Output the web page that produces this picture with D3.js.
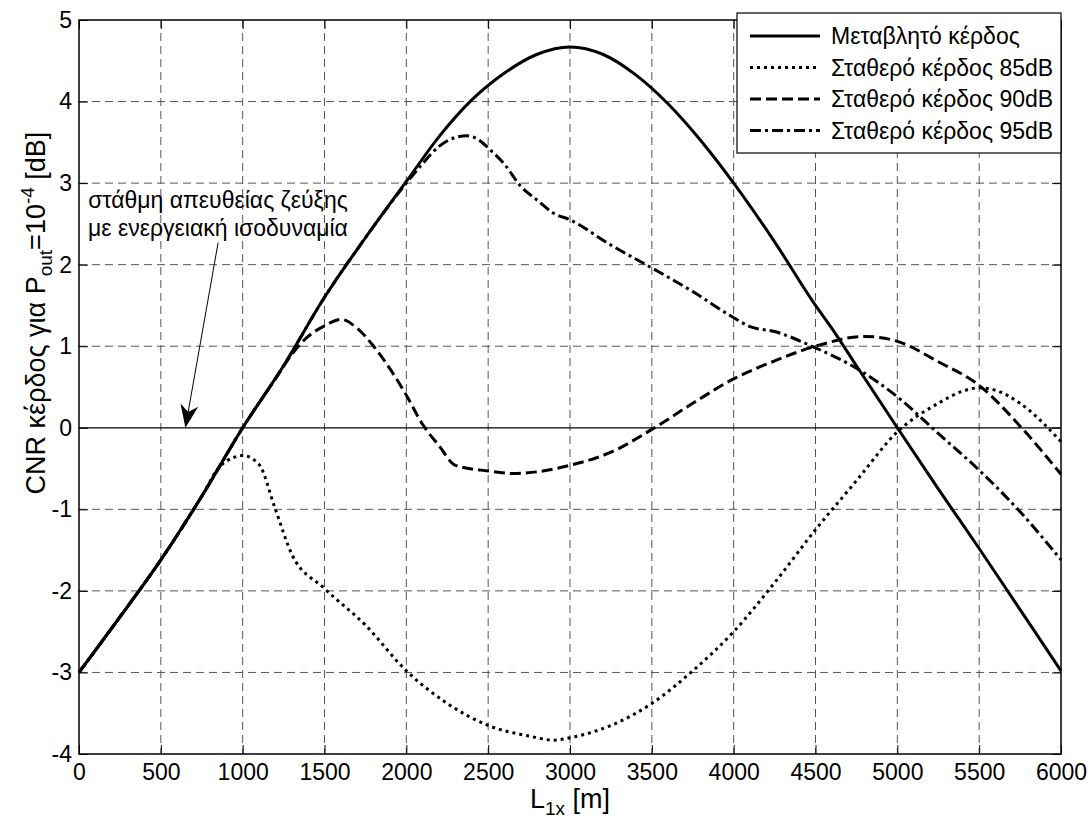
<!DOCTYPE html>
<html>
<head>
<meta charset="utf-8">
<script src="https://cdn.jsdelivr.net/npm/d3@7"></script>
<style>
  body { margin: 0; background: #fff; }
  svg text { font-family: "Liberation Sans", Arial, sans-serif; fill: #000; }
</style>
</head>
<body>
<div id="chart"></div>
<script>
// x positions [m] and CNR gain [dB] for each curve
var mainX = [0, 250, 500, 750, 1000, 1250, 1500, 1750, 2000, 2200, 2400, 2600, 2800, 3000, 3200, 3400, 3600, 3800, 4000, 4250, 4500, 4600, 4750, 5000, 5250, 5500, 5750, 6000];
var mainY = [-3.0, -2.32, -1.62, -0.84, 0, 0.76, 1.6, 2.33, 3.02, 3.57, 4.02, 4.35, 4.58, 4.67, 4.58, 4.33, 3.97, 3.52, 3.0, 2.28, 1.5, 1.22, 0.76, 0, -0.75, -1.48, -2.23, -2.98];

var g85X = [0, 250, 500, 750, 850, 950, 1000, 1100, 1200, 1300, 1500, 1750, 2000, 2250, 2500, 2750, 2900, 3000, 3250, 3500, 3750, 4000, 4250, 4500, 4750, 5000, 5250, 5400, 5500, 5600, 5750, 6000];
var g85Y = [-3.0, -2.32, -1.62, -0.84, -0.5, -0.36, -0.34, -0.45, -1.0, -1.55, -1.97, -2.42, -2.98, -3.38, -3.65, -3.78, -3.83, -3.8, -3.65, -3.38, -2.98, -2.5, -1.9, -1.25, -0.65, -0.05, 0.3, 0.45, 0.49, 0.46, 0.3, -0.17];

var g90X = [0, 250, 500, 750, 1000, 1200, 1300, 1400, 1500, 1600, 1700, 1800, 2000, 2100, 2200, 2300, 2500, 2650, 2800, 3000, 3250, 3500, 3750, 4000, 4250, 4500, 4800, 5000, 5250, 5500, 5750, 6000];
var g90Y = [-3.0, -2.32, -1.62, -0.84, 0, 0.6, 0.9, 1.12, 1.25, 1.33, 1.22, 1.0, 0.4, 0.04, -0.22, -0.46, -0.53, -0.56, -0.54, -0.46, -0.3, -0.02, 0.3, 0.6, 0.82, 1.0, 1.12, 1.06, 0.81, 0.52, 0.02, -0.57];

var g95X = [0, 250, 500, 750, 1000, 1250, 1500, 1750, 2000, 2100, 2200, 2300, 2370, 2450, 2500, 2600, 2700, 2800, 2900, 3000, 3250, 3500, 3750, 4000, 4100, 4250, 4500, 4750, 5000, 5250, 5500, 5750, 6000];
var g95Y = [-3.0, -2.32, -1.62, -0.84, 0, 0.76, 1.6, 2.33, 3.0, 3.24, 3.45, 3.56, 3.58, 3.52, 3.43, 3.23, 2.96, 2.79, 2.63, 2.55, 2.24, 1.96, 1.67, 1.35, 1.24, 1.18, 0.98, 0.73, 0.38, -0.07, -0.52, -1.03, -1.62];

var xTicks = [0, 500, 1000, 1500, 2000, 2500, 3000, 3500, 4000, 4500, 5000, 5500, 6000];
var yTicks = [-4, -3, -2, -1, 0, 1, 2, 3, 4, 5];

var legendNames = ["Μεταβλητό κέρδος", "Σταθερό κέρδος 85dB", "Σταθερό κέρδος 90dB", "Σταθερό κέρδος 95dB"];
var annotationLines = ["στάθμη απευθείας ζεύξης", "με ενεργειακή ισοδυναμία"];
var arrowFrom = [850, 2.27];   // data coords of the arrow tail
var arrowTo = [650, 0];        // data coords of the arrow tip

var W = 1091, H = 823;
var margin = { top: 20, right: 30, bottom: 69, left: 79 };
var width = W - margin.left - margin.right;
var height = H - margin.top - margin.bottom;
var fontSize = 23;
var labelSize = 27;

var svg = d3.select("#chart").append("svg")
  .attr("width", W)
  .attr("height", H)
  .attr("viewBox", "0 0 " + W + " " + H);

var g = svg.append("g")
  .attr("transform", "translate(" + margin.left + "," + margin.top + ")");

var x = d3.scaleLinear().domain([0, 6000]).range([0, width]);
var y = d3.scaleLinear().domain([-4, 5]).range([height, 0]);

// grid
g.append("g").selectAll("line.vg")
  .data(xTicks.slice(1, -1))
  .enter().append("line")
  .attr("x1", function(d) { return x(d); })
  .attr("x2", function(d) { return x(d); })
  .attr("y1", 0).attr("y2", height)
  .attr("stroke", "#555").attr("stroke-width", 1)
  .attr("stroke-dasharray", "8,5");

g.append("g").selectAll("line.hg")
  .data(yTicks.slice(1, -1).filter(function(d) { return d !== 0; }))
  .enter().append("line")
  .attr("x1", 0).attr("x2", width)
  .attr("y1", function(d) { return y(d); })
  .attr("y2", function(d) { return y(d); })
  .attr("stroke", "#555").attr("stroke-width", 1)
  .attr("stroke-dasharray", "8,5");

// zero line
g.append("line")
  .attr("x1", 0).attr("x2", width)
  .attr("y1", y(0)).attr("y2", y(0))
  .attr("stroke", "#000").attr("stroke-width", 1.3);

// axes with inward ticks
var tickLen = 9;
var fmt = function(d) { return String(d); };
var xAxis = d3.axisBottom(x).tickValues(xTicks).tickSize(-tickLen).tickPadding(10).tickFormat(fmt);
var yAxis = d3.axisLeft(y).tickValues(yTicks).tickSize(-tickLen).tickPadding(7).tickFormat(fmt);

g.append("g").attr("transform", "translate(0," + height + ")").call(xAxis);
g.append("g").call(yAxis);
g.append("g").call(d3.axisTop(x).tickValues(xTicks).tickSize(-tickLen).tickFormat(""));
g.append("g").attr("transform", "translate(" + width + ",0)")
  .call(d3.axisRight(y).tickValues(yTicks).tickSize(-tickLen).tickFormat(""));

g.selectAll(".domain").remove();
g.selectAll(".tick line").attr("stroke", "#000").attr("stroke-width", 1);
g.selectAll(".tick text").attr("font-size", fontSize).attr("font-family", "Liberation Sans, Arial, sans-serif");

// box
g.append("rect")
  .attr("x", 0).attr("y", 0)
  .attr("width", width).attr("height", height)
  .attr("fill", "none").attr("stroke", "#000").attr("stroke-width", 1.5);

// curves
var series = [
  { xs: mainX, ys: mainY, dash: null },
  { xs: g85X, ys: g85Y, dash: "3,4" },
  { xs: g90X, ys: g90Y, dash: "11,5" },
  { xs: g95X, ys: g95Y, dash: "11,4,3,4" }
];

var line = d3.line()
  .x(function(d) { return x(d[0]); })
  .y(function(d) { return y(d[1]); })
  .curve(d3.curveMonotoneX);

series.forEach(function(s) {
  var pts = s.xs.map(function(v, i) { return [v, s.ys[i]]; });
  g.append("path")
    .datum(pts)
    .attr("d", line)
    .attr("fill", "none")
    .attr("stroke", "#000")
    .attr("stroke-width", 3)
    .attr("stroke-dasharray", s.dash);
});

// annotation text
g.append("text")
  .attr("text-anchor", "middle")
  .attr("font-size", fontSize)
  .selectAll("tspan")
  .data(annotationLines)
  .enter().append("tspan")
  .attr("x", 139)
  .attr("y", function(d, i) { return 188 + i * 28; })
  .text(function(d) { return d; });

// arrow
var ax1 = x(arrowFrom[0]), ay1 = y(arrowFrom[1]);
var ax2 = x(arrowTo[0]), ay2 = y(arrowTo[1]);
var ang = Math.atan2(ay2 - ay1, ax2 - ax1);
var headLen = 23, headW = 9, notch = 7;
function pt(along, side) {
  return [ax2 - along * Math.cos(ang) - side * Math.sin(ang),
          ay2 - along * Math.sin(ang) + side * Math.cos(ang)];
}
g.append("line")
  .attr("x1", ax1).attr("y1", ay1)
  .attr("x2", pt(headLen - notch, 0)[0]).attr("y2", pt(headLen - notch, 0)[1])
  .attr("stroke", "#000").attr("stroke-width", 1);
g.append("path")
  .attr("d", "M" + [ax2, ay2] + "L" + pt(headLen, headW) + "L" + pt(headLen - notch, 0) + "L" + pt(headLen, -headW) + "Z")
  .attr("fill", "#000");

// axis labels
var xl = svg.append("text")
  .attr("x", margin.left + width / 2).attr("y", 808)
  .attr("text-anchor", "middle")
  .attr("font-size", labelSize);
xl.append("tspan").text("L");
xl.append("tspan").attr("dy", 7).attr("font-size", 19).text("1x");
xl.append("tspan").attr("dy", -7).text(" [m]");

var yl = svg.append("text")
  .attr("transform", "translate(45,313) rotate(-90)")
  .attr("text-anchor", "middle")
  .attr("font-size", labelSize);
yl.append("tspan").text("CNR κέρδος για P");
yl.append("tspan").attr("dy", 7).attr("font-size", 19).text("out");
yl.append("tspan").attr("dy", -7).text("=10");
yl.append("tspan").attr("dy", -11).attr("font-size", 19).text("-4");
yl.append("tspan").attr("dy", 11).text(" [dB]");

// legend
var lg = svg.append("g").attr("transform", "translate(737,13)");
lg.append("rect")
  .attr("width", 324).attr("height", 140)
  .attr("fill", "#fff").attr("stroke", "#000").attr("stroke-width", 1.2);
var rows = lg.selectAll("g.row")
  .data(series)
  .enter().append("g")
  .attr("transform", function(d, i) { return "translate(0," + (23 + i * 31.5) + ")"; });
rows.append("line")
  .attr("x1", 13).attr("x2", 83)
  .attr("y1", 0).attr("y2", 0)
  .attr("stroke", "#000").attr("stroke-width", 3)
  .attr("stroke-dasharray", function(d) { return d.dash; });
rows.append("text")
  .attr("x", 94).attr("y", 0).attr("dy", "0.35em")
  .attr("font-size", fontSize)
  .text(function(d, i) { return legendNames[i]; });
</script>
</body>
</html>
